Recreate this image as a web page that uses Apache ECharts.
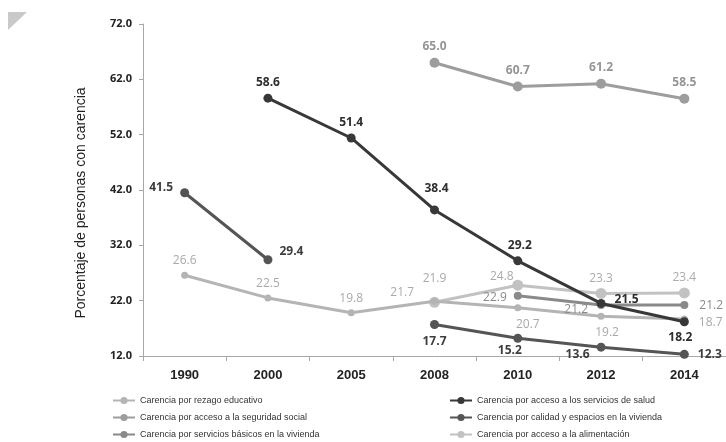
<!DOCTYPE html>
<html>
<head>
<meta charset="utf-8">
<script src="https://cdn.jsdelivr.net/npm/echarts@6/dist/echarts.min.js"></script>
<style>
  html, body { margin: 0; padding: 0; background: #fff; }
  #chart { width: 726px; height: 442px; }
</style>
</head>
<body>
<div id="chart"></div>
<script>
// Years on the horizontal axis
const years = ['1990', '2000', '2005', '2008', '2010', '2012', '2014'];

// Series names
const nameRezago = 'Carencia por rezago educativo';
const nameSalud = 'Carencia por acceso a los servicios de salud';
const nameSeguridad = 'Carencia por acceso a la seguridad social';
const nameCalidad = 'Carencia por calidad y espacios en la vivienda';
const nameBasicos = 'Carencia por servicios básicos en la vivienda';
const nameAlimentacion = 'Carencia por acceso a la alimentación';
const yTitle = 'Porcentaje de personas con carencia';

// Percentages per year (null = no measurement)
const rezago = [26.6, 22.5, 19.8, 21.9, 20.7, 19.2, 18.7];
const salud = [null, 58.6, 51.4, 38.4, 29.2, 21.5, 18.2];
const seguridad = [null, null, null, 65.0, 60.7, 61.2, 58.5];
const calidad = [41.5, 29.4, null, 17.7, 15.2, 13.6, 12.3];
const basicos = [null, null, null, null, 22.9, 21.2, 21.2];
const alimentacion = [null, null, null, 21.7, 24.8, 23.3, 23.4];

// Y axis range
const yMin = 12, yMax = 72, yStep = 10;

// Label placement per point: [position, dx, dy]
const posRezago = [['top',0,0],['top',0,0],['top',0,0],['top',0,-8],['bottom',10,2],['bottom',6,2],['right',6,4]];
const posSalud = [null,['top',0,0],['top',0,0],['top',2,-6],['top',2,0],['right',4,-4],['bottom',-4,0]];
const posSeguridad = [null,null,null,['top',0,0],['top',0,0],['top',0,0],['top',0,0]];
const posCalidad = [['left',-2,-5],['right',2,-8],null,['bottom',0,2],['bottom',-8,-3],['left',-2,7],['right',4,0]];
const posBasicos = [null,null,null,null,['left',-2,2],['left',-4,4],['right',6,0]];
const posAlimentacion = [null,null,null,['left',-10,-10],['top',-16,8],['top',0,2],['top',0,1]];

function build(values, pos) {
  return values.map((v, i) => {
    if (v === null) return null;
    const p = pos[i];
    return { value: v, label: { position: p[0], offset: [p[1], p[2]] } };
  });
}

const font = "'Liberation Sans', Arial, sans-serif";
const labelFont = "'Open Sans', 'DejaVu Sans', sans-serif";

function series(name, values, pos, color, labelColor, symbolSize, bold, z) {
  return {
    name: name,
    type: 'line',
    data: build(values, pos),
    connectNulls: false,
    symbol: 'circle',
    symbolSize: symbolSize,
    lineStyle: { color: color, width: 3 },
    itemStyle: { color: color },
    z: z,
    label: {
      show: true,
      formatter: p => p.value.toFixed(1),
      color: labelColor,
      fontSize: 12,
      fontWeight: bold ? 'bold' : 'normal',
      fontFamily: labelFont
    },
    emphasis: { disabled: true }
  };
}

const legendText = { fontSize: 9, color: '#333', fontFamily: font };
const legendBase = {
  orient: 'vertical', top: 396, padding: 0, itemGap: 8, itemWidth: 22, itemHeight: 9,
  textStyle: legendText, selectedMode: false
};

const chart = echarts.init(document.getElementById('chart'));
chart.setOption({
  animation: false,
  backgroundColor: '#ffffff',
  graphic: [
    {
      type: 'polygon',
      shape: { points: [[8, 12], [27, 12], [8, 30]] },
      style: { fill: '#c9c9c9' }
    },
    {
      type: 'text',
      x: 81, y: 203,
      rotation: Math.PI / 2,
      style: {
        text: yTitle,
        fill: '#222',
        font: "14px 'Liberation Sans', Arial, sans-serif",
        textAlign: 'center',
        textVerticalAlign: 'middle'
      }
    }
  ],
  grid: { left: 143, right: 0, top: 24, bottom: 86 },
  legend: [
    Object.assign({}, legendBase, { left: 112, data: [nameRezago, nameSeguridad, nameBasicos] }),
    Object.assign({}, legendBase, { left: 449, data: [nameSalud, nameCalidad, nameAlimentacion] })
  ],
  xAxis: {
    type: 'category',
    data: years,
    boundaryGap: true,
    axisLine: { lineStyle: { color: '#a8a8a8', width: 1 } },
    axisTick: { show: true, length: 5, lineStyle: { color: '#a8a8a8' } },
    axisLabel: { color: '#222', fontSize: 13, fontWeight: 'bold', margin: 13, fontFamily: font }
  },
  yAxis: {
    type: 'value',
    min: yMin, max: yMax, interval: yStep,
    axisLine: { show: true, lineStyle: { color: '#a8a8a8', width: 1 } },
    axisTick: { show: true, length: 4, lineStyle: { color: '#a8a8a8' } },
    splitLine: { show: false },
    axisLabel: {
      color: '#222', fontSize: 11, fontWeight: 'bold', margin: 11, fontFamily: labelFont,
      formatter: v => v.toFixed(1)
    }
  },
  series: [
    series(nameRezago, rezago, posRezago, '#b4b4b4', '#a9a9a9', 7, false, 2),
    series(nameSalud, salud, posSalud, '#383838', '#2e2e2e', 9, true, 6),
    series(nameSeguridad, seguridad, posSeguridad, '#9d9d9d', '#959595', 10, true, 3),
    series(nameCalidad, calidad, posCalidad, '#555555', '#3e3e3e', 9, true, 5),
    series(nameBasicos, basicos, posBasicos, '#8a8a8a', '#8a8a8a', 8, false, 4),
    series(nameAlimentacion, alimentacion, posAlimentacion, '#c2c2c2', '#ababab', 11, false, 1)
  ]
});
</script>
</body>
</html>
